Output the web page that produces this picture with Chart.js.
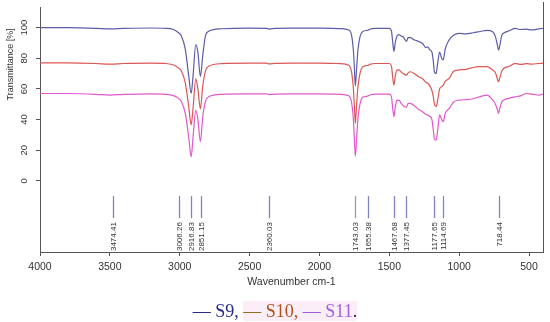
<!DOCTYPE html>
<html>
<head>
<meta charset="utf-8">
<script src="https://cdn.jsdelivr.net/npm/chart.js@4/dist/chart.umd.min.js"></script>
<style>
  html, body { margin: 0; padding: 0; background: #fff; }
  #wrap { position: relative; width: 550px; height: 322px; }
  #legend {
    position: absolute; left: 0; width: 550px; top: 300px;
    text-align: center; font-family: "Liberation Serif", serif; font-size: 18px; line-height: 22px;
  }
  #legend .hl { background: #fbeef7; }
</style>
</head>
<body>
<div id="wrap">
  <canvas id="ftir" width="550" height="322"></canvas>
  <div id="legend">
    <span style="color:#1c1c7c">—</span> <span style="color:#2a2a8c">S9,</span>
    <span class="hl"><span style="color:#8b6a1a">—</span> <span style="color:#b4501c">S10,</span>
    <span style="color:#9955dd">—</span> <span style="color:#a060e0">S11</span><span style="color:#333">.</span></span>
  </div>
</div>
<script>
// wavenumber grid (cm-1), shared by the three spectra
const wavenumbers = [4000, 3800, 3600, 3500, 3400, 3200, 3100, 3050, 3020, 3006, 2990, 2960, 2935, 2918, 2905,
  2885, 2870, 2852, 2835, 2815, 2790, 2700, 2500, 2380, 2360, 2340, 2200, 2000, 1850, 1790, 1770,
  1757, 1750, 1743, 1735, 1725, 1710, 1690, 1655, 1640, 1600, 1500, 1485, 1475, 1467, 1458, 1445,
  1430, 1415, 1400, 1390, 1377, 1365, 1350, 1320, 1290, 1260, 1240, 1225, 1210, 1195, 1185, 1177,
  1165, 1155, 1140, 1125, 1114, 1100, 1071, 1040, 1000, 950, 900, 850, 800, 760, 740, 725, 718,
  710, 695, 680, 640, 600, 560, 520, 480, 430, 400];

const s9 = [100, 100, 99.6, 99.2, 99.5, 99.8, 99.6, 99, 97.5, 96.5, 95, 86, 68, 57, 68,
  89, 84, 68, 82, 95, 97.8, 99.3, 99.7, 99.6, 99.1, 99.4, 99.7, 99.7, 99.4, 98.5, 95,
  85, 74, 62, 72, 85, 94, 97.5, 98.3, 99, 99.6, 99.6, 98, 90, 84.5, 90, 94.5,
  95.5, 94.5, 94, 92.5, 91, 93.5, 93.5, 92, 91, 89.5, 87, 87.5, 85.5, 84, 78, 71,
  70, 76, 84, 80, 79, 86, 92, 95, 96.3, 96, 96.7, 97.5, 98.3, 97.4, 94, 88, 85.4,
  88, 95, 96.5, 98, 99.5, 98.8, 99, 98.5, 99.2, 99.6];

const s10 = [77, 77, 76.6, 76.2, 76.6, 76.8, 76.6, 75.8, 74.5, 73.5, 72, 64, 48, 36.5, 47,
  66.5, 60, 47, 62, 72, 75, 76.5, 76.8, 76.8, 76.3, 76.5, 76.8, 76.8, 76.5, 75.5, 71,
  60, 49, 37.5, 48, 61, 70, 74.5, 75.3, 76, 76.6, 76.6, 75, 67, 62.5, 68, 72.5,
  72.4, 71, 70, 69.5, 69, 70.5, 71.2, 70, 68, 66.5, 64.5, 63.7, 62, 59, 55, 50,
  48.4, 52, 60, 61.5, 62.5, 65, 66.9, 71.5, 72.4, 72.8, 74, 74.5, 74.6, 72.4, 70.5, 66, 64.7,
  67, 71.5, 73.5, 74.8, 76.7, 76, 76.5, 76.2, 76.6, 76.8];

const s11 = [57, 57, 56.5, 56, 56.5, 56.8, 56.5, 55.8, 54.5, 53.5, 52, 44, 28, 15.7, 28,
  46, 40, 25.5, 42, 52, 55, 56.5, 56.8, 56.8, 56.3, 56.5, 56.8, 56.8, 56.5, 55.5, 51,
  40, 27, 16, 26, 40, 50, 54.5, 55.3, 56, 56.6, 56.6, 55, 47, 41.8, 48, 52.5,
  52.7, 50.5, 49, 48.4, 48, 50.5, 50.5, 49, 46.5, 45, 43.5, 43, 42, 40, 33, 27,
  26.6, 32, 43, 40, 38.6, 44, 47.3, 51.5, 52.7, 53, 53.6, 55, 56, 52.7, 50, 46, 44,
  47, 51.5, 52.7, 54, 54.8, 55.5, 57, 56.6, 56, 56.6];

// assigned band positions shown under the spectra
const peakPositions = [3474.41, 3006.26, 2916.83, 2851.15, 2360.03, 1743.03, 1655.38,
  1467.68, 1377.45, 1177.65, 1114.69, 718.44];
const peakColors = ['#8383c4', '#8383c4', '#8383c4', '#8383c4', '#8383c4', '#a89a8c', '#8383c4',
  '#8383c4', '#8383c4', '#8383c4', '#8383c4', '#8383c4'];

const xTicks = [4000, 3500, 3000, 2500, 2000, 1500, 1000, 500];
const yTicks = [0, 20, 40, 60, 80, 100];

const toPoints = (ys) => wavenumbers.map((w, i) => ({ x: w, y: ys[i] }));

const sideText = {
  id: 'sideText',
  afterDraw(chart) {
    const { ctx, chartArea, scales } = chart;
    const x = scales.x, y = scales.y;
    ctx.save();
    // right frame line
    ctx.strokeStyle = '#555';
    ctx.lineWidth = 1;
    ctx.beginPath();
    ctx.moveTo(chartArea.right + 0.5, 2);
    ctx.lineTo(chartArea.right + 0.5, chartArea.bottom);
    ctx.stroke();

    // y tick labels, rotated like base R
    ctx.fillStyle = '#333';
    ctx.font = '9.5px "Liberation Sans", Arial, sans-serif';
    ctx.textAlign = 'center';
    ctx.textBaseline = 'middle';
    yTicks.forEach((v) => {
      ctx.save();
      ctx.translate(chartArea.left - 16, y.getPixelForValue(v));
      ctx.rotate(-Math.PI / 2);
      ctx.fillText(String(v), 0, 0);
      ctx.restore();
    });

    // y title
    ctx.save();
    ctx.translate(11, y.getPixelForValue(76));
    ctx.rotate(-Math.PI / 2);
    ctx.font = '9px "Liberation Sans", Arial, sans-serif';
    ctx.fillText('Transmittance [%]', 0, 0);
    ctx.restore();

    // x title
    ctx.font = '10.5px "Liberation Sans", Arial, sans-serif';
    ctx.fillText('Wavenumber cm-1', (chartArea.left + chartArea.right) / 2, 282);

    // peak markers and their labels
    ctx.font = '8px "Liberation Sans", Arial, sans-serif';
    ctx.textAlign = 'right';
    ctx.lineWidth = 1.3;
    peakPositions.forEach((p, i) => {
      const px = Math.round(x.getPixelForValue(p)) + 0.5;
      ctx.strokeStyle = peakColors[i];
      ctx.beginPath();
      ctx.moveTo(px, y.getPixelForValue(-10));
      ctx.lineTo(px, y.getPixelForValue(-24.4));
      ctx.stroke();
      ctx.save();
      ctx.translate(px, y.getPixelForValue(-27));
      ctx.rotate(-Math.PI / 2);
      ctx.fillStyle = '#333';
      ctx.fillText(p.toFixed(2), 0, 0);
      ctx.restore();
    });
    ctx.restore();
  }
};

new Chart(document.getElementById('ftir'), {
  type: 'line',
  data: {
    datasets: [
      { label: 'S9', data: toPoints(s9), borderColor: '#5c5cab' },
      { label: 'S10', data: toPoints(s10), borderColor: '#dd5656' },
      { label: 'S11', data: toPoints(s11), borderColor: '#e058cc' }
    ]
  },
  options: {
    responsive: false,
    animation: false,
    devicePixelRatio: 1,
    layout: { padding: { left: 0, right: 7, top: 7, bottom: 0 } },
    elements: {
      point: { radius: 0 },
      line: { borderWidth: 1.2, cubicInterpolationMode: 'monotone' }
    },
    plugins: { legend: { display: false }, tooltip: { enabled: false } },
    scales: {
      x: {
        type: 'linear',
        reverse: true,
        min: 400,
        max: 4000,
        afterBuildTicks: (s) => { s.ticks = xTicks.map((v) => ({ value: v })) },
        afterFit: (s) => { s.height = 70 },
        border: { display: true, color: '#555' },
        grid: { drawOnChartArea: false, tickLength: 4, color: '#555' },
        ticks: {
          padding: 5,
          maxRotation: 0,
          color: '#333',
          callback: (v) => String(v),
          font: { family: '"Liberation Sans", Arial, sans-serif', size: 10.5 }
        }
      },
      y: {
        min: -46.5,
        max: 113.5,
        afterBuildTicks: (s) => { s.ticks = yTicks.map((v) => ({ value: v })) },
        afterFit: (s) => { s.width = 40 },
        border: { display: true, color: '#555' },
        grid: { drawOnChartArea: false, tickLength: 4, color: '#555' },
        ticks: { display: false }
      }
    }
  },
  plugins: [sideText]
})
</script>
</body>
</html>
